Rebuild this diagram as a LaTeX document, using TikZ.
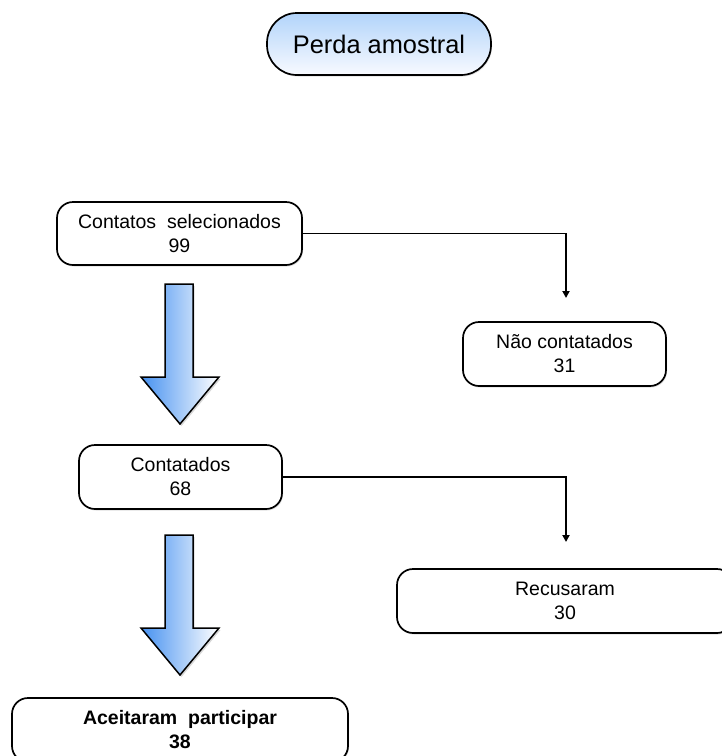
\documentclass[tikz,border=0pt]{standalone}
\usepackage{fontspec}
\setmainfont{Liberation Sans}
\usetikzlibrary{arrows.meta,shadows}
\definecolor{pilltop}{RGB}{178,212,250}
\definecolor{pillbot}{RGB}{248,250,255}
\definecolor{arrowleft}{RGB}{70,145,240}
\tikzset{
  box/.style={draw=black, line width=1.7pt, fill=white, rounded corners=16pt,
    align=center, inner sep=0pt, font=\fontsize{19.5}{24}\selectfont,
    drop shadow={opacity=0.25, shadow xshift=1pt, shadow yshift=-1.5pt}},
  pill/.style={draw=black, line width=1.7pt, rounded corners=30pt,
    top color=pilltop, bottom color=pillbot, align=center, inner sep=0pt,
    font=\fontsize{25.4}{30}\selectfont,
    drop shadow={opacity=0.25, shadow xshift=1pt, shadow yshift=-1.5pt}},
  bigarrow/.style={draw=black, line width=1.5pt, line join=miter,
    left color=arrowleft, right color=white,
    drop shadow={opacity=0.3, shadow xshift=1.5pt, shadow yshift=-2pt}},
  link/.style={draw=black, line width=1.9pt,
    -{Triangle[length=7pt,width=7pt]}}
}
\begin{document}
\begin{tikzpicture}[x=1pt,y=-1pt]
\useasboundingbox[fill=white] (0,0) rectangle (722,756);
\node[pill, minimum width=224pt, minimum height=62pt] (perda) at (379,44) {Perda amostral};
\node[box, minimum width=245pt, minimum height=63pt] (cs) at (179.5,233.5) {Contatos\ \ selecionados\\99};
\node[box, minimum width=203pt, minimum height=64pt] (nc) at (564.5,354) {Não contatados\\31};
\node[box, minimum width=203pt, minimum height=64pt] (ct) at (180.5,477) {Contatados\\68};
\node[box, minimum width=336pt, minimum height=64pt] (rc) at (565,601) {Recusaram\\30};
\node[box, minimum width=336pt, minimum height=64pt] (ac) at (180,730) {\bfseries Aceitaram\ \ participar\\\bfseries 38};
\coordinate (e1) at (566,298);
\coordinate (e2) at (566,542);
\draw[link] (cs.east) -| (e1);
\draw[link] (ct.east) -| (e2);
\path[bigarrow] (165,284) -- (193,284) -- (193,377) -- (219,377) -- (180,424) -- (141,377) -- (165,377) -- cycle;
\path[bigarrow] (165,535) -- (193,535) -- (193,628) -- (219,628) -- (180,675) -- (141,628) -- (165,628) -- cycle;
\end{tikzpicture}
\end{document}
